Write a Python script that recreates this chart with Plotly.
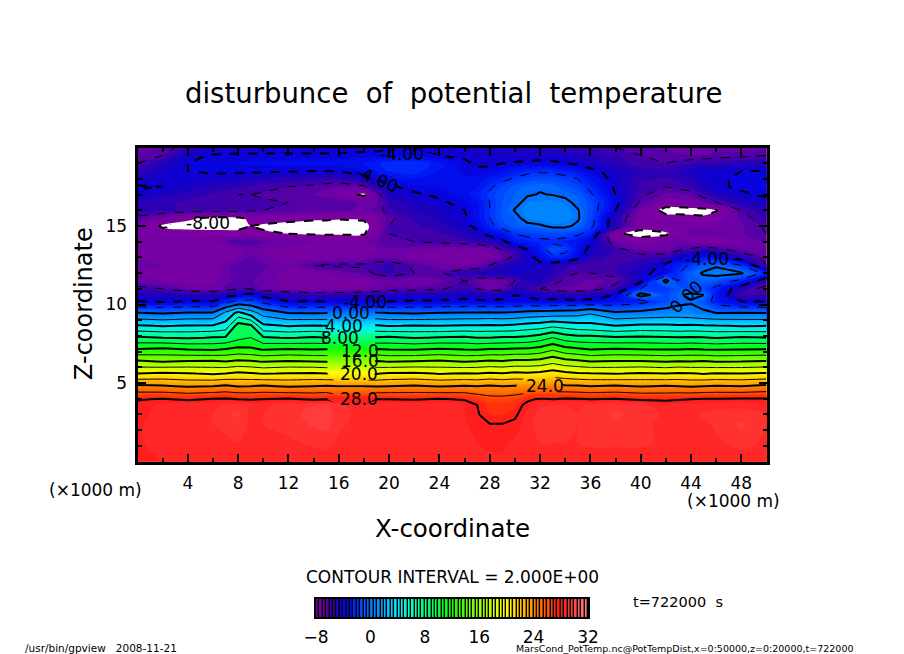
import plotly.graph_objects as go
import numpy as np

W = 904
H = 654

x_km = [0, 2, 4, 6, 7, 8, 9, 10, 12, 14, 15, 16, 18, 19, 20, 22, 24, 26, 27, 28, 29, 30, 31, 32, 33, 34, 35, 36, 38,
        40, 42, 43, 44, 45, 46, 48, 50]
z_km = [0, 1.2, 2.4, 3.0, 3.6, 3.97, 4.8, 5.6, 6.37, 7.13, 7.89, 8.64, 9.46, 10.2, 10.6, 11, 11.5, 12, 12.5, 13,
        13.5, 14, 14.5, 15, 15.5, 16, 16.5, 17, 17.5, 18, 18.5, 19, 19.5, 20]

# potential temperature disturbance, one row per z_km
theta = [
    [28.4, 28.5, 28.6, 28.6, 28.7, 28.7, 28.7, 28.7, 28.7, 28.7, 28.7, 28.6, 28.6, 28.6, 28.6, 28.6, 28.6, 28.6, 28.6, 28.6, 28.6, 28.6, 28.6, 28.6, 28.6, 28.6, 28.7, 28.7, 28.7, 28.7, 28.7, 28.7, 28.7, 28.7, 28.7, 28.7, 28.6],
    [28.4, 28.8, 28.9, 28.9, 28.9, 29.0, 28.9, 28.9, 28.9, 29.1, 29.2, 28.9, 28.8, 28.8, 28.8, 28.8, 28.8, 28.7, 28.5, 28.4, 28.4, 28.6, 28.8, 29.0, 29.0, 29.0, 29.0, 29.1, 29.1, 29.1, 28.9, 28.8, 28.8, 28.8, 28.9, 29.2, 28.9],
    [28.4, 28.8, 29.0, 29.0, 29.1, 29.3, 28.9, 29.0, 29.2, 29.6, 29.7, 29.1, 28.8, 28.8, 28.9, 28.9, 28.8, 28.6, 28.2, 28.0, 28.0, 28.2, 28.8, 29.2, 29.2, 29.1, 29.0, 29.1, 29.4, 29.1, 28.9, 28.8, 28.8, 28.9, 29.1, 29.6, 29.0],
    [28.3, 28.7, 28.9, 29.0, 29.4, 29.6, 28.9, 29.0, 29.3, 29.7, 29.8, 29.2, 28.8, 28.8, 28.9, 28.9, 28.7, 28.5, 28.1, 27.5, 27.5, 27.8, 28.7, 29.2, 29.3, 29.2, 29.0, 29.2, 29.6, 29.3, 28.9, 28.8, 28.9, 29.1, 29.2, 29.3, 29.0],
    [28.3, 28.6, 28.8, 28.8, 29.1, 29.2, 28.9, 28.9, 29.2, 29.5, 29.6, 29.1, 28.7, 28.7, 28.8, 28.8, 28.7, 28.5, 28.0, 27.2, 27.2, 27.4, 28.4, 28.9, 29.0, 29.0, 28.9, 29.1, 29.3, 29.1, 28.8, 28.7, 28.7, 28.7, 28.8, 28.8, 28.6],
    [27.9, 28.1, 27.8, 28.1, 28.2, 28.0, 27.9, 28.0, 28.2, 27.8, 28.0, 28.0, 28.1, 28.0, 28.0, 27.9, 28.1, 27.9, 27.2, 26.6, 26.6, 26.9, 27.7, 28.2, 28.0, 28.2, 28.1, 28.0, 28.1, 27.8, 27.7, 27.9, 28.0, 28.1, 28.1, 28.2, 28.2],
    [24.4, 24.2, 23.8, 24.0, 24.3, 23.9, 24.0, 24.2, 23.8, 24.0, 24.1, 24.0, 24.0, 23.9, 24.0, 24.2, 23.9, 24.1, 24.0, 24.2, 24.0, 24.1, 24.2, 24.3, 24.6, 24.3, 24.2, 24.0, 24.2, 23.9, 24.1, 24.0, 23.8, 24.0, 24.1, 24.0, 24.4],
    [20.0, 20.3, 20.1, 19.8, 20.0, 20.4, 20.2, 19.9, 20.1, 20.2, 20.0, 20.0, 20.0, 19.9, 20.2, 20.3, 19.9, 20.1, 20.0, 20.3, 20.1, 20.4, 20.3, 20.5, 21.0, 20.5, 20.2, 20.1, 19.9, 20.2, 20.0, 20.2, 20.1, 19.9, 20.1, 20.0, 20.2],
    [16.3, 15.9, 16.2, 16.3, 16.0, 16.4, 16.2, 15.9, 16.2, 16.0, 15.9, 16.0, 16.0, 16.2, 15.9, 16.1, 16.3, 15.9, 16.1, 16.3, 16.2, 16.5, 16.5, 16.7, 17.4, 16.7, 16.4, 16.0, 16.2, 16.2, 15.9, 16.1, 16.0, 16.2, 15.9, 16.0, 16.2],
    [12.2, 12.5, 12.0, 11.8, 12.2, 12.6, 12.4, 11.9, 12.2, 12.0, 12.1, 12.0, 12.0, 12.2, 12.0, 11.9, 12.3, 12.0, 11.9, 12.2, 12.2, 12.4, 12.4, 12.8, 13.8, 12.8, 12.4, 12.0, 12.3, 12.1, 12.0, 12.0, 12.2, 12.0, 11.9, 12.0, 12.1],
    [8.3, 8.0, 7.8, 8.1, 8.2, 9.4, 10.0, 8.2, 7.9, 8.2, 8.0, 8.0, 8.0, 8.1, 8.3, 7.9, 8.1, 8.3, 8.0, 8.0, 8.2, 8.2, 8.4, 9.0, 10.0, 9.0, 8.6, 8.6, 8.2, 8.4, 8.2, 8.1, 8.2, 8.1, 7.9, 8.2, 8.0],
    [4.2, 3.9, 4.1, 4.2, 4.8, 9.0, 8.4, 4.4, 3.9, 4.1, 4.0, 4.0, 4.0, 4.2, 3.9, 4.1, 4.0, 4.2, 4.2, 4.3, 4.2, 4.4, 4.8, 5.0, 5.6, 5.2, 4.8, 4.6, 4.0, 4.4, 4.4, 4.2, 4.3, 4.2, 4.1, 3.9, 4.0],
    [0.1, -0.2, 0.2, 0.2, 2.4, 4.6, 3.0, 1.2, 0.0, -0.1, 0.0, 0.0, 0.0, 0.2, 0.0, -0.2, 0.1, 0.2, 0.2, 0.3, 0.2, 0.3, 0.6, 0.8, 0.8, 1.0, 1.2, 1.8, 0.3, 0.5, 0.8, 0.9, 0.7, 0.3, 0.0, 0.1, 0.0],
    [-4.0, -4.2, -3.9, -4.0, -2.6, -1.6, -1.6, -2.6, -4.0, -4.0, -4.0, -4.0, -4.0, -4.2, -4.0, -3.9, -3.9, -3.7, -3.8, -3.9, -3.8, -3.6, -3.6, -3.8, -3.6, -3.6, -3.7, -3.6, -3.2, -2.6, -1.2, -0.5, -0.2, -0.8, -2.8, -4.0, -4.1],
    [-4.6, -4.8, -5.0, -5.0, -4.6, -4.0, -3.4, -4.6, -5.0, -5.2, -5.2, -5.2, -5.0, -5.0, -4.8, -4.6, -4.6, -4.4, -4.6, -4.6, -4.4, -4.0, -4.2, -4.6, -4.8, -5.0, -5.0, -4.8, -4.0, 0.8, -1.2, -0.4, 0.6, 0.0, -2.6, -5.6, -5.4],
    [-5.6, -6.0, -6.6, -6.8, -6.4, -6.0, -6.0, -6.6, -7.0, -7.2, -7.2, -7.2, -7.0, -6.8, -6.4, -6.4, -6.2, -5.4, -6.0, -6.6, -6.4, -5.0, -5.4, -6.0, -6.4, -6.6, -6.6, -6.6, -5.4, -2.0, -1.8, -0.6, -1.4, -1.4, -2.5, -5.0, -6.6],
    [-6.8, -7.0, -7.4, -7.2, -6.6, -6.4, -6.4, -6.8, -7.2, -7.3, -7.3, -7.3, -7.2, -7.0, -6.8, -7.0, -6.6, -6.0, -6.6, -6.8, -6.8, -6.0, -5.0, -5.0, -5.6, -6.2, -6.4, -6.6, -6.4, -4.4, 0.6, -2.0, -0.5, -0.6, -1.0, -2.5, -5.0],
    [-7.0, -7.2, -7.4, -7.2, -6.8, -6.0, -6.0, -6.6, -7.2, -7.2, -7.0, -6.8, -6.4, -5.8, -5.4, -6.0, -6.2, -5.0, -5.0, -4.6, -4.6, -4.4, -4.6, -4.8, -5.0, -5.8, -6.0, -6.0, -5.6, -4.4, -3.4, -2.0, -0.6, 0.2, 0.6, 0.2, -2.6],
    [-6.6, -7.0, -7.2, -7.2, -6.8, -6.2, -6.0, -6.4, -7.0, -6.0, -5.8, -5.8, -5.8, -5.6, -5.4, -6.2, -6.8, -7.0, -6.8, -6.0, -5.2, -4.6, -4.4, -4.4, -4.8, -5.2, -5.6, -5.8, -5.6, -5.0, -3.6, -2.6, -1.8, -0.8, -0.2, -2.0, -6.0],
    [-7.2, -7.2, -7.3, -7.3, -7.3, -7.0, -6.4, -6.8, -7.4, -7.4, -7.3, -7.2, -7.0, -6.6, -6.6, -7.2, -7.4, -7.4, -7.4, -7.2, -6.6, -5.8, -4.6, -3.4, -2.4, -2.6, -3.6, -5.0, -5.8, -5.6, -5.4, -4.2, -3.6, -3.0, -3.4, -5.0, -6.4],
    [-7.2, -7.4, -7.4, -7.4, -7.4, -7.2, -6.8, -7.0, -7.3, -7.4, -7.4, -7.4, -7.3, -7.0, -6.6, -6.8, -7.0, -7.0, -7.2, -6.8, -6.0, -5.0, -4.0, -2.8, -1.0, -1.6, -3.2, -4.4, -5.6, -6.6, -6.8, -6.2, -5.8, -5.2, -5.6, -6.6, -7.0],
    [-7.0, -7.0, -7.0, -7.2, -6.6, -6.0, -6.0, -6.4, -6.6, -7.0, -7.2, -7.2, -7.2, -6.6, -6.0, -6.0, -5.8, -5.6, -5.4, -5.0, -4.4, -3.0, -2.6, -2.4, -2.4, -2.6, -3.0, -3.8, -6.8, -7.4, -7.0, -6.6, -7.2, -7.6, -7.6, -7.0, -6.4],
    [-7.0, -7.4, -7.5, -7.6, -7.6, -7.6, -7.6, -7.8, -8.0, -8.1, -8.1, -8.1, -8.1, -7.0, -6.0, -5.8, -5.6, -5.2, -4.4, -3.6, -3.0, -2.0, -1.6, -1.4, -1.2, -1.4, -1.8, -2.6, -7.8, -8.4, -8.2, -7.4, -6.8, -6.4, -6.8, -6.6, -6.0],
    [-6.8, -8.2, -8.4, -8.4, -8.4, -8.4, -8.0, -8.2, -8.4, -8.5, -8.5, -8.5, -8.4, -7.4, -6.0, -5.6, -5.2, -4.4, -3.6, -2.4, -1.4, -0.6, -0.4, -0.2, 0.3, 0.3, -0.3, -1.6, -5.0, -7.6, -7.2, -7.0, -7.0, -7.2, -7.0, -6.6, -5.8],
    [-6.2, -7.0, -7.8, -8.3, -8.3, -8.2, -7.8, -7.4, -7.6, -7.8, -7.8, -7.9, -7.8, -7.4, -6.2, -5.4, -4.8, -4.2, -3.2, -2.0, -0.9, -0.5, 0.6, 0.9, 1.0, 0.8, 0.2, -1.4, -5.0, -7.4, -7.6, -7.6, -7.7, -7.8, -7.4, -6.4, -5.4],
    [-5.4, -5.4, -5.6, -5.6, -5.6, -5.6, -5.8, -6.0, -6.2, -6.4, -6.4, -6.4, -6.6, -6.4, -5.6, -5.0, -4.6, -4.0, -3.2, -2.0, -0.9, 0.1, 0.8, 1.0, 1.0, 0.7, 0.1, -1.2, -4.0, -7.0, -8.4, -8.4, -8.4, -8.4, -8.1, -6.0, -5.0],
    [-5.2, -5.4, -5.6, -5.8, -5.8, -5.8, -5.8, -5.9, -6.0, -6.2, -6.2, -6.2, -6.6, -6.6, -5.4, -4.6, -4.2, -3.6, -3.0, -2.0, -1.0, -0.4, 0.4, 0.6, 0.7, 0.4, -0.4, -1.2, -3.6, -6.2, -7.4, -7.4, -7.0, -6.6, -6.0, -5.0, -4.4],
    [-4.6, -4.8, -5.2, -5.6, -5.8, -6.0, -6.0, -6.1, -6.3, -6.5, -6.7, -7.2, -8.3, -6.5, -4.8, -4.2, -3.8, -3.2, -2.6, -1.8, -1.1, -0.5, -0.1, 0.05, -0.05, -0.3, -0.6, -1.8, -4.0, -5.8, -6.6, -6.6, -6.4, -5.6, -5.0, -4.2, -3.8],
    [-3.8, -4.0, -4.6, -5.0, -5.2, -5.4, -5.6, -5.8, -6.0, -6.2, -6.4, -6.6, -6.2, -5.0, -4.2, -3.6, -3.4, -3.2, -3.0, -2.2, -1.4, -0.8, -0.3, -0.1, -0.3, -0.8, -1.4, -2.4, -4.2, -5.6, -6.0, -5.8, -5.4, -4.8, -4.2, -3.8, -3.4],
    [-5.0, -4.1, -4.2, -4.4, -4.5, -4.6, -4.8, -5.0, -5.2, -5.4, -5.4, -5.4, -4.6, -4.0, -3.4, -3.0, -3.2, -3.4, -3.2, -2.8, -2.4, -1.8, -1.4, -1.2, -1.2, -1.6, -2.0, -3.0, -4.4, -5.4, -5.6, -5.4, -5.0, -4.4, -4.2, -3.8, -3.6],
    [-5.5, -4.5, -4.0, -3.8, -3.8, -3.8, -3.8, -3.8, -3.9, -4.0, -4.0, -3.9, -3.4, -2.9, -2.4, -2.2, -3.0, -3.6, -3.8, -3.6, -3.2, -2.8, -2.4, -2.2, -2.3, -2.6, -3.0, -3.7, -4.4, -5.2, -5.2, -5.0, -4.6, -4.4, -4.2, -4.0, -4.0],
    [-6.0, -5.0, -4.0, -3.6, -3.5, -3.5, -3.4, -3.4, -3.3, -3.2, -3.2, -3.2, -3.0, -2.6, -2.2, -2.0, -2.8, -3.8, -4.2, -4.3, -4.0, -3.9, -3.8, -3.7, -3.8, -4.0, -4.2, -4.6, -5.2, -5.8, -6.0, -5.8, -5.6, -5.4, -5.4, -5.2, -5.0],
    [-6.4, -6.0, -4.3, -3.9, -3.8, -3.8, -3.8, -3.8, -3.8, -3.8, -3.8, -3.8, -3.7, -3.7, -3.7, -3.7, -4.0, -4.2, -4.3, -4.4, -4.4, -4.5, -4.5, -4.5, -4.5, -4.6, -4.8, -5.0, -5.4, -6.0, -6.3, -6.4, -6.5, -6.5, -6.3, -6.2, -6.0],
    [-6.8, -6.5, -5.5, -4.8, -4.8, -4.8, -4.8, -4.6, -4.6, -4.6, -4.6, -4.5, -4.4, -4.3, -4.2, -4.2, -4.4, -4.6, -4.8, -5.0, -5.0, -5.0, -5.0, -5.2, -5.2, -5.4, -5.4, -5.6, -6.0, -6.4, -6.6, -6.8, -7.0, -7.0, -6.8, -6.8, -6.6],
]
for row in theta:
    assert len(row) == len(x_km)
assert len(theta) == len(z_km)

color_levels = [-8, -7, -6, -5, -4, -3, -2, 0, 2, 4, 6, 8, 10, 12, 14, 16, 18, 20, 22, 24, 26, 28, 29, 30, 31, 32]
color_values = ["#80009e", "#7400a4", "#4a00a8", "#2000b8", "#0a00d8", "#0010f0", "#0030ff", "#0070ff", "#00a8ff",
                "#00e8ff", "#00ffc8", "#00ff80", "#00ff40", "#10ff00", "#50ff00", "#90ff00", "#c8ff00", "#ffff00",
                "#ffc800", "#ff9000", "#ff5800", "#ff1818", "#ff2c2c", "#ff4040", "#ff6060", "#ff9090"]

x_ticks = [4, 8, 12, 16, 20, 24, 28, 32, 36, 40, 44, 48]
z_ticks = [5, 10, 15]
bar_ticks = [-8, 0, 8, 16, 24, 32]

# contour labels: text, x, z, angle
contour_labels = [
    ("-4.00", 21.0, 19.6, 0), ("-4.00", 19.0, 18.0, 22), ("-8.00", 5.6, 15.2, 0),
    ("-4.00", 18.1, 10.16, 0), ("0.00", 17.0, 9.46, 0), ("4.00", 16.4, 8.64, 0), ("8.00", 16.1, 7.89, 0),
    ("12.0", 17.7, 7.07, 0), ("16.0", 17.7, 6.37, 0), ("20.0", 17.6, 5.6, 0), ("28.0", 17.6, 3.97, 0),
    ("24.0", 32.4, 4.8, 0), ("-4.00", 45.3, 12.9, 0), ("0.00", 43.6, 10.5, -45),
]
# grid points where the contour lines stop to leave room for a label
label_gaps = [(16, 3.97), (18, 3.97), (16, 5.6), (18, 5.6), (16, 6.37), (18, 6.37), (16, 7.13), (18, 7.13),
              (16, 7.89), (18, 7.89), (16, 8.64), (18, 8.64), (16, 9.46), (18, 9.46), (16, 10.2), (18, 10.2),
              (31, 4.8), (32, 4.8), (33, 4.8), (20, 19.5), (22, 19.5), (4, 15), (6, 15), (7, 15), (44, 13), (45, 13),
              (46, 13)]


def scale_pos(v):
    return (v + 8.25) / 40.5


fill_scale = [[0, "white"], [scale_pos(-8.02), "white"]]
for lev, col in zip(color_levels, color_values):
    fill_scale.append([scale_pos(lev), col])
fill_scale.append([1, color_values[-1]])

line_z = np.array(theta, dtype=float)
for gx, gz in label_gaps:
    line_z[z_km.index(gz), x_km.index(gx)] = np.nan

fig = go.Figure()

fig.add_trace(go.Contour(x=x_km, y=z_km, z=theta, autocontour=False,
                         contours=dict(start=-8, end=32, size=0.5, coloring="fill", showlines=False),
                         colorscale=fill_scale, line=dict(width=0), showscale=False, hoverinfo="skip"))

# thick line every 4, thin between, dashed below zero
line_sets = [(-8, -4, 4, 2, "dash"), (-6, -2, 4, 1, "dash"), (0, 28, 4, 2, "solid"), (2, 30, 4, 1, "solid")]
for start, end, size, width, dash in line_sets:
    fig.add_trace(go.Contour(x=x_km, y=z_km, z=line_z, autocontour=False, connectgaps=False,
                             contours=dict(start=start, end=end, size=size, coloring="none"),
                             line=dict(color="black", width=width, dash=dash, smoothing=0),
                             showscale=False, hoverinfo="skip"))

# colour bar drawn as a striped strip
bar_x = np.arange(-7.75, 32, 0.5)
bar_scale = [[(lev + 8) / 40, col] for lev, col in zip(color_levels, color_values)]
fig.add_trace(go.Heatmap(x=bar_x, y=[0], z=[bar_x], colorscale=bar_scale, zmin=-8, zmax=32, xgap=1.4,
                         showscale=False, hoverinfo="skip", xaxis="x2", yaxis="y2"))


def text(s, px, py, size, angle=0, xanchor="center"):
    fig.add_annotation(text=s, x=px / W, y=1 - py / H, xref="paper", yref="paper", showarrow=False,
                       xanchor=xanchor, yanchor="middle", textangle=angle,
                       font=dict(family="DejaVu Sans", size=size, color="black"))


for s, lx, lz, ang in contour_labels:
    fig.add_annotation(text=s, x=lx, y=lz, xref="x", yref="y", showarrow=False, textangle=ang,
                       font=dict(family="DejaVu Sans", size=17, color="black"))

text("disturbunce  of  potential  temperature", 453, 93, 27.5)
text("(×1000 m)", 95, 490, 17)
text("(×1000 m)", 733, 501, 17)
text("X-coordinate", 452, 528, 24.5)
text("Z-coordinate", 84, 304, 24, angle=-90)
text("CONTOUR INTERVAL = 2.000E+00", 452, 577, 17)
text("t=722000  s", 678, 602, 14.5)
text("/usr/bin/gpview   2008-11-21", 101, 648, 10.5)
text("MarsCond_PotTemp.nc@PotTempDist,x=0:50000,z=0:20000,t=722000", 684, 648, 9.5)

axis_font = dict(family="DejaVu Sans", size=17, color="black")
fig.update_layout(
    width=W, height=H, margin=dict(l=0, r=0, t=0, b=0, autoexpand=False), paper_bgcolor="white", plot_bgcolor="black",
    showlegend=False,
    xaxis=dict(domain=[137.5 / W, 766.5 / W], range=[0, 50], tickvals=x_ticks, ticks="inside", ticklen=8, tickwidth=2,
               tickcolor="black", showline=True, linewidth=3, linecolor="black", mirror="ticks", showgrid=False,
               zeroline=False, tickfont=axis_font, ticklabelstandoff=4,
               minor=dict(ticks="inside", dtick=2, tick0=0, ticklen=4, tickwidth=2, tickcolor="black", showgrid=False)),
    yaxis=dict(domain=[1 - 461.5 / H, 1 - 147.5 / H], range=[0, 20], tickvals=z_ticks, ticks="inside", ticklen=8,
               tickwidth=2, tickcolor="black", showline=True, linewidth=3, linecolor="black", mirror="ticks",
               showgrid=False, zeroline=False, tickfont=axis_font, ticklabelstandoff=4,
               minor=dict(ticks="inside", dtick=1, tick0=0, ticklen=4, tickwidth=2, tickcolor="black", showgrid=False)),
    xaxis2=dict(domain=[316 / W, 588 / W], range=[-8, 32], anchor="y2", tickvals=bar_ticks,
                ticktext=["−8", "0", "8", "16", "24", "32"], ticks="", showline=True, linewidth=2, linecolor="black",
                mirror=True, showgrid=False, zeroline=False, tickfont=axis_font, ticklabelstandoff=4),
    yaxis2=dict(domain=[1 - 617 / H, 1 - 599 / H], range=[-0.5, 0.5], anchor="x2", showticklabels=False, ticks="",
                showline=True, linewidth=2, linecolor="black", mirror=True, showgrid=False, zeroline=False),
)

fig.write_html("out.html", config=dict(displayModeBar=False), post_script="document.body.style.margin='0';")
